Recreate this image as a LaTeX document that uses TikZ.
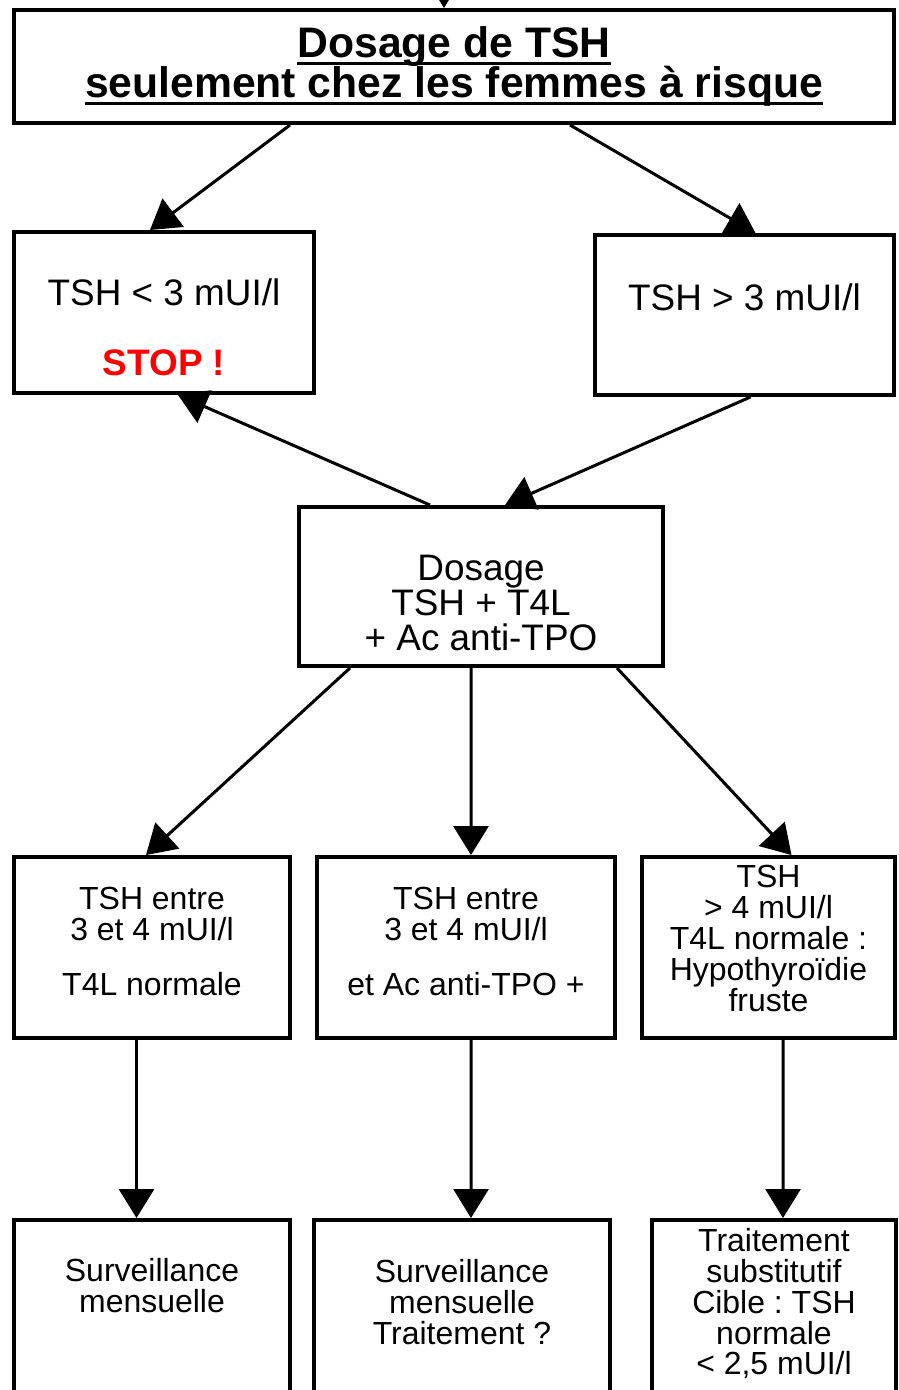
\documentclass[tikz,border=0pt]{standalone}
\usepackage{fontspec}
\setmainfont{Liberation Sans}
\usetikzlibrary{arrows.meta}
\newsavebox{\boitesoul}
\newcommand{\souligne}[1]{\sbox{\boitesoul}{#1}\rlap{\usebox{\boitesoul}}\rule[-4.5pt]{\wd\boitesoul}{2pt}}

\begin{document}
\setlength{\lineskiplimit}{-10pt}
\frenchspacing
\begin{tikzpicture}[x=0.02cm, y=-0.02cm,
    >={Triangle[length=0.58cm,width=0.7cm]},
    boite/.style={draw, line width=0.08cm, align=center, inner sep=0pt,
      font=\fontsize{18.2}{17.6}\selectfont},
    grand/.style={font=\fontsize{21}{19.9}\selectfont},
    fleche/.style={->, line width=0.06cm}]
        \useasboundingbox (0,0) rectangle (899,1390);
        \clip (0,0) rectangle (899,1390);

        % titre
        \node[boite, minimum width=17.6cm, minimum height=2.26cm,
          font=\fontsize{24.3}{22.8}\selectfont\bfseries] (titre) at (454,66.5)
          {\souligne{Dosage de TSH}\\\souligne{seulement chez les femmes à risque}};
        \coordinate (entree) at (444,-60);

        % premier dosage
        \node[boite, grand, minimum width=6cm, minimum height=3.22cm] (bas) at (164,312.5)
          {\mbox{}\\[0.42cm]TSH < 3 mUI/l\\[0.7cm]\textcolor{red}{\textbf{STOP !}}};
        \node[boite, grand, minimum width=5.98cm, minimum height=3.2cm] (haut) at (744.5,315)
          {TSH > 3 mUI/l\\ \mbox{}};
        \node[boite, grand, minimum width=7.28cm, minimum height=3.18cm] (dosage) at (481,586.5)
          {\mbox{}\\[0.48cm]Dosage\\TSH + T4L\\+ Ac anti-TPO};

        % resultats
        \node[boite, minimum width=5.52cm, minimum height=3.62cm] (entre1) at (152,947.5)
          {TSH entre\\3 et 4 mUI/l\\[0.48cm]T4L normale\\[-0.38cm]\mbox{}};
        \node[boite, minimum width=5.96cm, minimum height=3.62cm] (entre2) at (466,947.5)
          {TSH entre\\3 et 4 mUI/l\\[0.48cm]et Ac anti-TPO +\\[-0.38cm]\mbox{}};
        \node[boite, minimum width=5.06cm, minimum height=3.62cm] (fruste) at (768.5,947.5)
          {TSH\\> 4 mUI/l\\T4L normale :\\Hypothyroïdie\\fruste\\[-0.26cm]\mbox{}};

        % conduite
        \node[boite, minimum width=5.52cm, minimum height=4cm] (surv1) at (152,1320)
          {Surveillance\\mensuelle\\ \mbox{}\\[0.16cm]\mbox{}};
        \node[boite, minimum width=5.92cm, minimum height=4cm] (surv2) at (462,1320)
          {Surveillance\\mensuelle\\Traitement ?\\[0.12cm]\mbox{}};
        \node[boite, minimum width=4.88cm, minimum height=4cm] (traitement) at (774,1320)
          {Traitement\\substitutif\\Cible : TSH\\normale\\< 2,5 mUI/l\\[0.12cm]\mbox{}};

        \draw[fleche] (entree) -- ([xshift=-0.2cm]titre.north);
        \draw[fleche] ([xshift=-3.28cm]titre.south) -- ([xshift=-0.28cm]bas.north);
        \draw[fleche] ([xshift=2.32cm]titre.south) -- ([xshift=0.22cm]haut.north);
        \draw[fleche] ([xshift=-1.02cm]dosage.north) -- ([xshift=0.28cm]bas.south);
        \draw[fleche] ([xshift=0.12cm]haut.south) -- ([xshift=0.48cm]dosage.north);

        \draw[fleche] ([xshift=-2.62cm]dosage.south) -- ([xshift=-0.12cm]entre1.north);
        \draw[fleche] ([xshift=-0.2cm]dosage.south) -- ([xshift=0.1cm]entre2.north);
        \draw[fleche] ([xshift=2.72cm]dosage.south) -- ([xshift=0.46cm]fruste.north);

        \draw[fleche] ([xshift=-0.31cm]entre1.south) -- ([xshift=-0.31cm]surv1.north);
        \draw[fleche] ([xshift=0.1cm]entre2.south) -- ([xshift=0.18cm]surv2.north);
        \draw[fleche] ([xshift=0.29cm]fruste.south) -- ([xshift=0.18cm]traitement.north);
\end{tikzpicture}
\end{document}
